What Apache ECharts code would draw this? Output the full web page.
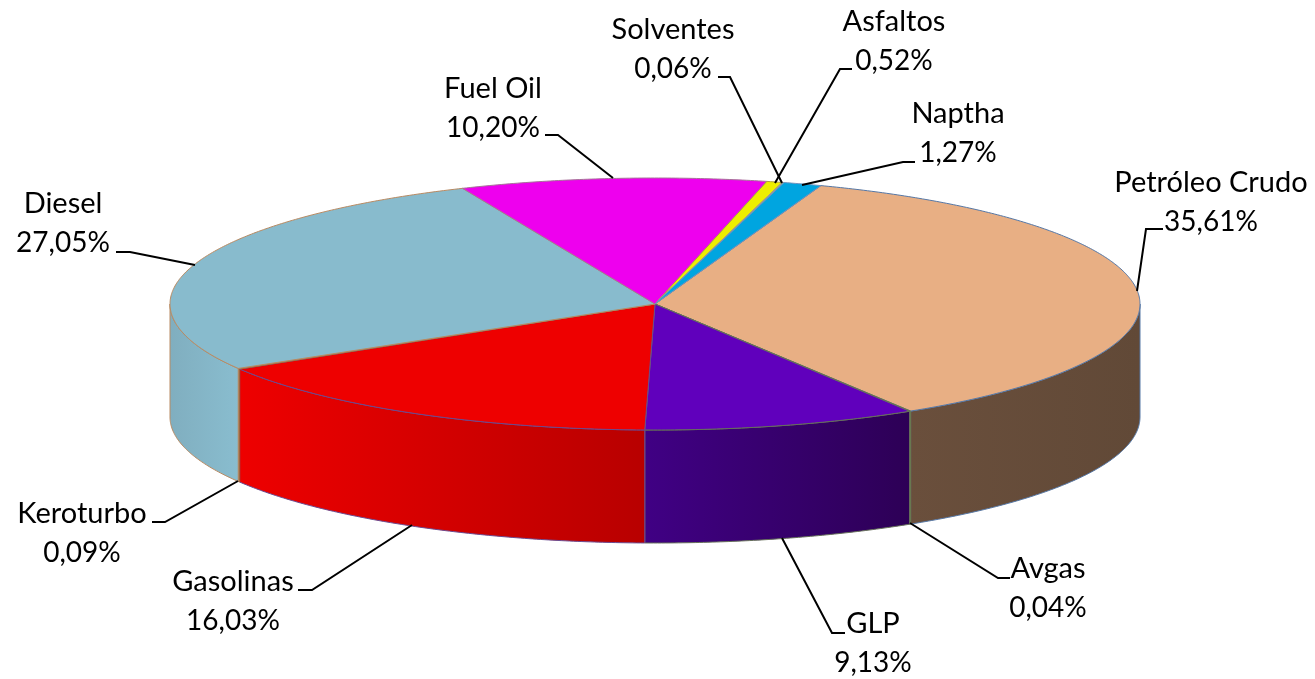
<!DOCTYPE html>
<html>
<head>
<meta charset="utf-8">
<style>html,body{margin:0;padding:0;background:#fff}#c{width:1315px;height:679px}</style>
<script src="https://cdn.jsdelivr.net/npm/echarts@6/dist/echarts.min.js"></script>
</head>
<body>
<div id="c"></div>
<script>
const categories = ['Petróleo Crudo','Avgas','GLP','Gasolinas','Keroturbo','Diesel','Fuel Oil','Asfaltos','Solventes','Naptha'];
const values = [35.61,0.04,9.13,16.03,0.09,27.05,10.20,0.52,0.06,1.27];
const valueLabels = ['35,61%','0,04%','9,13%','16,03%','0,09%','27,05%','10,20%','0,52%','0,06%','1,27%'];

// styles
const topColors = ['#E8AF84','#8A9A50','#6000BC','#EE0000','#D07020','#88BBCD','#EE00EE','#EEEE00','#9A9A9A','#00A5E0'];
const sideLeft  = ['#6A4F3C','#5A6830','#400084','#EE0000','#8A4A10','#80AEBF','#900090','#909000','#666666','#006A90'];
const sideRight = ['#614937','#5A6830','#2D0056','#B80000','#8A4A10','#89BDCF','#900090','#909000','#666666','#006A90'];
const edges     = ['#5678A6','#6B7A50','#66705A','#6A4A90','#A06A40','#B98A62','#A8709A','#B0A040','#999999','#6E93BE'];

// layout
const CX = 655, CY = 304, RX = 485, RY = 126, DEPTH = 113, START = 20;
const NAME_FONT = '29px Lato, Carlito, sans-serif';
const VALUE_FONT = '28px Lato, Carlito, sans-serif';
const labelAt = [[1211,183],[1048,569],[873,624],[233,582],[82,514],[63,204],[493,89],[894,22],[673,30],[958,114]];
const LINE_GAP = 39;
const leaders = [
  [[1163,229],[1146,229],[1137,291]],
  [[1010,578],[998,578],[910,523]],
  [[845,633],[832,633],[782,538]],
  [[298,590],[312,590],[412,525]],
  [[152,522],[165,522],[238,481]],
  [[116,252],[130,252],[195,265]],
  [[545,135],[558,135],[613,178]],
  [[852,69],[840,69],[775,183]],
  [[718,77],[730,77],[782,183]],
  [[915,162],[903,162],[802,185]]
];

const total = values.reduce((a, b) => a + b, 0);
const cumBefore = [];
values.reduce((acc, v, i) => { cumBefore[i] = acc; return acc + v; }, 0);
const angStart = i => START + cumBefore[i] / total * 360;
const angEnd = i => START + (cumBefore[i] + values[i]) / total * 360;
function pt(deg, dy) {
  const r = deg * Math.PI / 180;
  return [CX + RX * Math.sin(r), CY - RY * Math.cos(r) + (dy || 0)];
}
function arc(a, b, dy) {
  const n = Math.max(2, Math.ceil(Math.abs(b - a) * 2));
  const out = [];
  for (let k = 0; k <= n; k++) out.push(pt(a + (b - a) * k / n, dy));
  return out;
}

function renderSide(params) {
  const i = params.dataIndex;
  const a = Math.max(angStart(i), 90), b = Math.min(angEnd(i), 270);
  if (b <= a) return null;
  const top = arc(a, b, 0), bottom = arc(b, a, DEPTH);
  return {
    type: 'polygon',
    shape: { points: top.concat(bottom) },
    style: {
      fill: new echarts.graphic.LinearGradient(0, 0, 1, 0, [
        { offset: 0, color: sideLeft[i] },
        { offset: 1, color: sideRight[i] }
      ]),
      stroke: edges[i], lineWidth: 1
    }
  };
}
function renderTop(params) {
  const i = params.dataIndex;
  return {
    type: 'polygon',
    shape: { points: [[CX, CY]].concat(arc(angStart(i), angEnd(i), 0)) },
    style: { fill: topColors[i], stroke: edges[i], lineWidth: 1 }
  };
}
function renderLabel(params) {
  const i = params.dataIndex, p = labelAt[i];
  return {
    type: 'group',
    children: [
      { type: 'polyline', shape: { points: leaders[i] }, style: { fill: 'none', stroke: '#000', lineWidth: 2 } },
      { type: 'text', style: { text: categories[i], x: p[0], y: p[1], align: 'center', verticalAlign: 'middle', font: NAME_FONT, fill: '#000' } },
      { type: 'text', style: { text: valueLabels[i], x: p[0], y: p[1] + LINE_GAP, align: 'center', verticalAlign: 'middle', font: VALUE_FONT, fill: '#000' } }
    ]
  };
}

const chart = echarts.init(document.getElementById('c'), null, { renderer: 'canvas' });
chart.setOption({
  animation: false,
  backgroundColor: '#fff',
  tooltip: { show: false },
  series: [
    { type: 'custom', name: 'side', coordinateSystem: 'none', z: 1, silent: true, data: values, renderItem: renderSide },
    { type: 'custom', name: 'top', coordinateSystem: 'none', z: 2, silent: true, data: values, renderItem: renderTop },
    { type: 'custom', name: 'labels', coordinateSystem: 'none', z: 3, silent: true, data: values, renderItem: renderLabel }
  ]
});
</script>
</body>
</html>
